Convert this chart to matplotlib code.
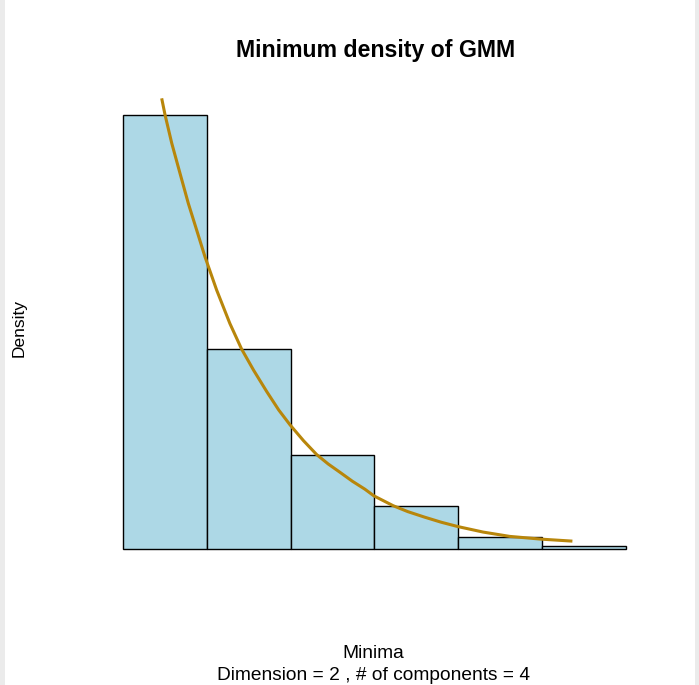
import matplotlib
matplotlib.use("Agg")
import matplotlib.pyplot as plt
from matplotlib.patches import Rectangle

plt.rcParams['font.family'] = ['Liberation Sans', 'DejaVu Sans']

# Histogram of minima (density scale)
bin_edges = [0.0, 0.5, 1.0, 1.5, 2.0, 2.5, 3.0]
densities = [1.103, 0.508, 0.240, 0.110, 0.031, 0.008]

# Fitted density curve of the minimum
curve_x = [0.231, 0.251, 0.291, 0.340, 0.390, 0.440, 0.489, 0.559, 0.638,
           0.708, 0.780, 0.858, 0.930, 0.998, 1.078, 1.156, 1.225, 1.295,
           1.370, 1.444, 1.498, 1.613, 1.700, 1.800, 1.900, 1.999, 2.150,
           2.309, 2.498, 2.683]
curve_y = [1.145, 1.103, 1.031, 0.955, 0.878, 0.810, 0.743, 0.658, 0.573,
           0.508, 0.454, 0.400, 0.353, 0.315, 0.275, 0.240, 0.216, 0.195,
           0.172, 0.152, 0.135, 0.110, 0.095, 0.081, 0.068, 0.057, 0.043,
           0.032, 0.025, 0.020]

title = "Minimum density of GMM"
xlabel = "Minima"
subtitle = "Dimension = 2 , # of components = 4"
ylabel = "Density"

W, H = 699, 685
fig = plt.figure(figsize=(W / 100, H / 100), dpi=100)
fig.patch.set_facecolor("white")

# light grey side strips
fig.patches.append(Rectangle((0, 0), 5 / W, 1, transform=fig.transFigure,
                             facecolor="#ebebeb", edgecolor="none", zorder=0))
fig.patches.append(Rectangle((695 / W, 0), 4 / W, 1, transform=fig.transFigure,
                             facecolor="#ebebeb", edgecolor="none", zorder=0))

# axes placed so the bins span x=123..625 px and baseline at y=549 px
left_px, right_px = 123, 625.5
base_px = 549
ytop = 1.2
px_per_unit = 393.6
top_px = base_px - ytop * px_per_unit
ax = fig.add_axes([left_px / W, (H - base_px) / H,
                   (right_px - left_px) / W, (base_px - top_px) / H])
ax.set_xlim(bin_edges[0], bin_edges[-1])
ax.set_ylim(0, ytop)
ax.axis("off")

widths = [b - a for a, b in zip(bin_edges[:-1], bin_edges[1:])]
ax.bar(bin_edges[:-1], densities, width=widths, align="edge",
       color="#ADD8E6", edgecolor="black", linewidth=1.0, clip_on=False)
ax.plot(curve_x, curve_y, color="#B8860B", linewidth=2.2,
        solid_capstyle="butt", solid_joinstyle="round", clip_on=False)

fig.text(376 / W, 1 - 51 / H, title, ha="center", va="center",
         fontsize=16.7, fontweight="bold")
fig.text(373 / W, 1 - 654 / H, xlabel, ha="center", va="center", fontsize=13.8)
fig.text(373 / W, 1 - 675 / H, subtitle, ha="center", va="center", fontsize=13.8)
fig.text(19 / W, 1 - 328 / H, ylabel, ha="center", va="center",
         rotation=90, fontsize=12.5)

fig.savefig("out.png", dpi=100)
